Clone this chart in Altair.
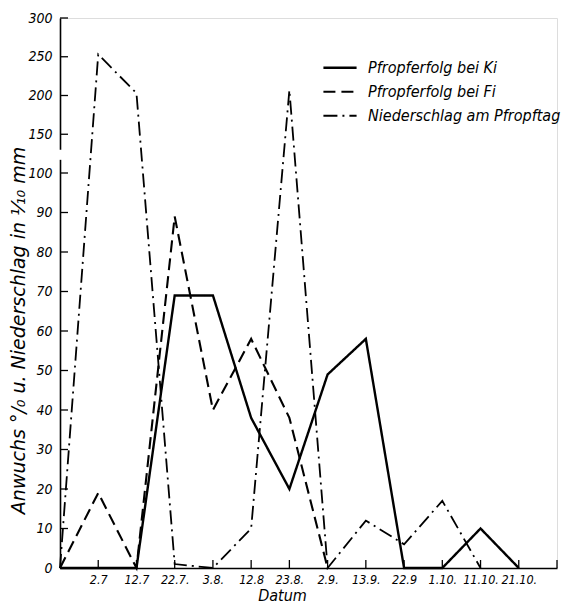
import json
import altair as alt
import pandas as pd

# ---- data ----
x_labels = ["", "2.7", "12.7", "22.7.", "3.8.", "12.8", "23.8.", "2.9.",
            "13.9.", "22.9", "1.10.", "11.10.", "21.10.", ""]
series_names = ["Pfropferfolg bei Ki", "Pfropferfolg bei Fi", "Niederschlag am Pfropftag"]
ki = [0, 0, 0, 69, 69, 38, 20, 49, 58, 0, 0, 10, 0, None]
fi = [0, 19, 0, 89, 40, 58, 38, 0, None, None, None, None, None, None]
nied = [0, 253, 203, 1, 0, 10, 207, 0, 12, 6, 17, 0, None, None]
y_ticks = [0, 10, 20, 30, 40, 50, 60, 70, 80, 90, 100, 150, 200, 250, 300]
x_ticks = list(range(1, 14))
y_break = [117, 130]

rows = []
for name, vals in zip(series_names, [ki, fi, nied]):
    for i, v in enumerate(vals):
        if v is not None:
            rows.append({"idx": i, "value": v, "series": name})
df = pd.DataFrame(rows)

FONT = "'Liberation Sans Narrow', 'DejaVu Sans Condensed', 'DejaVu Sans', sans-serif"
TFONT = "'DejaVu Sans', sans-serif"
W, H = 497, 550
YTITLE = "Anwuchs °/₀ u. Niederschlag in ¹⁄₁₀ mm"

xscale = alt.Scale(domain=[0, 13], zero=False, nice=False)
yscale = alt.Scale(domain=[0, 100, 300], range=[H, 155, 0], zero=False, nice=False)

label_expr = json.dumps(x_labels) + "[datum.value]"

xaxis = alt.Axis(values=x_ticks[:-1], labelExpr=label_expr, ticks=False, grid=False,
                 labelOverlap=False, title="Datum", titleX=222,
                 labelFont=FONT, labelFontStyle="italic", labelFontSize=12.5,
                 labelColor="black", labelPadding=5, titleFont=FONT, titleFontStyle="italic",
                 titleFontWeight="normal", titleFontSize=16, titlePadding=2,
                 domainColor="black", domainWidth=1.6)
yaxis = alt.Axis(values=y_ticks, ticks=False, grid=False, domainColor="black", domainWidth=1.6,
                 labelOverlap=False,
                 title=YTITLE, labelFont=FONT,
                 labelFontStyle="italic", labelFontSize=14, labelColor="black", labelPadding=8,
                 titleFont=TFONT, titleFontStyle="italic", titleFontWeight="normal",
                 titleFontSize=19, titleColor="black", titleX=-42, titleY=312,
                 titleBaseline="middle", titleAlign="center")

lines = alt.Chart(df).mark_line(color="black").encode(
    x=alt.X("idx:Q", scale=xscale, axis=xaxis, title="Datum"),
    y=alt.Y("value:Q", scale=yscale, axis=yaxis, title=YTITLE),
    strokeDash=alt.StrokeDash(
        "series:N",
        scale=alt.Scale(domain=series_names, range=[[1, 0], [12, 6], [14, 5, 2, 5]]),
        sort=series_names,
        legend=alt.Legend(title=None, orient="none", legendX=262, legendY=38,
                          symbolType="stroke", symbolSize=1100, symbolStrokeWidth=2,
                          symbolStrokeColor="black", labelFont=FONT, labelFontStyle="italic",
                          labelFontSize=16, labelColor="black", labelLimit=0,
                          clipHeight=23.5, rowPadding=0, labelOffset=10),
    ),
    strokeWidth=alt.StrokeWidth("series:N",
                                scale=alt.Scale(domain=series_names, range=[2.4, 1.8, 1.7]),
                                legend=None),
)

ytick_df = pd.DataFrame({"t": y_ticks})
yticks = alt.Chart(ytick_df).mark_rule(color="black", strokeWidth=1.3, x2Offset=8).encode(
    x=alt.X(datum=0, scale=xscale, axis=xaxis, title="Datum"),
    x2=alt.datum(0),
    y=alt.Y("t:Q", scale=yscale, axis=yaxis, title=YTITLE),
)

xtick_df = pd.DataFrame({"t": x_ticks})
xticks = alt.Chart(xtick_df).mark_rule(color="black", strokeWidth=1.3, y2Offset=-8).encode(
    x=alt.X("t:Q", scale=xscale, axis=xaxis, title="Datum"),
    y=alt.Y(datum=0, scale=yscale, axis=yaxis, title=YTITLE),
    y2=alt.datum(0),
)

brk = alt.Chart(pd.DataFrame({"a": [y_break[0]], "b": [y_break[1]]})).mark_rule(
    color="white", strokeWidth=5).encode(
    x=alt.X(datum=0, scale=xscale, axis=xaxis, title="Datum"),
    y=alt.Y("a:Q", scale=yscale, axis=yaxis, title=YTITLE),
    y2="b:Q",
)

chart = alt.layer(lines, yticks, xticks, brk).properties(
    width=W, height=H,
    autosize=alt.AutoSizeParams(type="none"),
    padding={"left": 52, "top": 10, "right": 6, "bottom": 36},
).configure_view(stroke=None).configure(background="white")

chart.save("out.html", embed_options={"renderer": "svg", "actions": False})
